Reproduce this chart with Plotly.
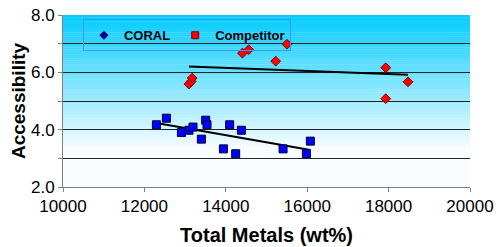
import numpy as np
import plotly.graph_objects as go

# ---- data ----
competitor_x = [13093, 13150, 13174, 14408, 14563, 15226, 15504, 17929, 17929, 18477]
competitor_y = [5.59, 5.68, 5.80, 6.67, 6.79, 6.39, 6.98, 6.16, 5.08, 5.67]

coral_x = [12295, 12541, 12909, 13096, 13194, 13400, 13506, 13538, 13941, 14095,
           14243, 14383, 15407, 15980, 16078]
coral_y = [4.17, 4.40, 3.90, 3.98, 4.09, 3.67, 4.33, 4.17, 3.33, 4.17,
           3.16, 3.98, 3.33, 3.16, 3.60]

legend_names = ["CORAL", "Competitor"]
x_ticks = [10000, 12000, 14000, 16000, 18000, 20000]
y_ticks = [2.0, 4.0, 6.0, 8.0]
y_grid = [3, 4, 5, 6, 7]

FONT = "Liberation Sans, Arial, sans-serif"


def trend(xs, ys):
    m, b = np.polyfit(xs, ys, 1)
    xx = np.array([min(xs), max(xs)])
    return xx, m * xx + b


fig = go.Figure()

# trendlines
for xs, ys in [(competitor_x, competitor_y), (coral_x, coral_y)]:
    tx, ty = trend(xs, ys)
    fig.add_trace(go.Scatter(x=tx, y=ty, mode="lines", showlegend=False,
                             line=dict(color="black", width=2), hoverinfo="skip"))

fig.add_trace(go.Scatter(x=competitor_x, y=competitor_y, mode="markers", showlegend=False,
                         marker=dict(symbol="diamond", size=7.5, color="#FF0000",
                                     line=dict(color="#7a0000", width=1))))
fig.add_trace(go.Scatter(x=coral_x, y=coral_y, mode="markers", showlegend=False,
                         marker=dict(symbol="square", size=8, color="#0000FF",
                                     line=dict(color="#000033", width=1))))

# legend entries (as in the reference)
fig.add_trace(go.Scatter(x=[None], y=[None], mode="markers", name=legend_names[0],
                         marker=dict(symbol="diamond", size=7, color="#000080")))
fig.add_trace(go.Scatter(x=[None], y=[None], mode="markers", name=legend_names[1],
                         marker=dict(symbol="square", size=7, color="#FF0000",
                                     line=dict(color="#7a0000", width=1))))

# gradient background bands
shapes = []
N = 80
top = np.array([0, 204, 255])
white = np.array([250, 253, 255])
for i in range(N):
    t = (i + 0.5) / N  # 0 at top
    f = min(1.0, t / 0.78)
    c = top + (white - top) * f
    y1 = 1 - i / N
    y0 = 1 - (i + 1) / N
    shapes.append(dict(type="rect", xref="x domain", yref="y domain",
                       x0=0, x1=1, y0=y0 - 0.002, y1=y1, layer="below",
                       line=dict(width=0),
                       fillcolor="rgb(%d,%d,%d)" % tuple(c.astype(int))))

fig.update_layout(
    template="none",
    width=502, height=247,
    margin=dict(l=63, r=32, t=15, b=60, autoexpand=False),
    paper_bgcolor="white", plot_bgcolor="rgba(0,0,0,0)",
    font=dict(family=FONT, color="black", size=16),
    shapes=shapes,
    showlegend=True,
    legend=dict(orientation="h", x=0.049, y=0.975, xanchor="left", yanchor="top",
                bgcolor="rgba(0,0,0,0)", bordercolor="#3399FF", borderwidth=1,
                font=dict(family=FONT, size=13, color="black", weight="bold"),
                itemwidth=30, tracegroupgap=0),
    xaxis=dict(range=[10000, 20000], tickvals=x_ticks, tickformat="d", ticks="outside",
               ticklen=4, tickcolor="#808080", showline=True, linecolor="#808080",
               linewidth=1, showgrid=False, zeroline=False, tickfont=dict(size=17),
               automargin=False,
               title=dict(text="Total Metals (wt%)", standoff=12,
                          font=dict(size=20, weight="bold"))),
    yaxis=dict(range=[2, 8], tickvals=y_ticks, tickformat=".1f", ticks="outside",
               ticklen=4, tickcolor="#808080", showline=True, linecolor="#808080",
               linewidth=1, showgrid=False, zeroline=False, tickfont=dict(size=17),
               automargin=False,
               minor=dict(tickvals=y_grid, showgrid=True, gridcolor="#222222",
                          gridwidth=1, ticks="outside", ticklen=4, tickcolor="#808080"),
               title=dict(text="Accessibility", standoff=0,
                          font=dict(size=19, weight="bold"))),
)

fig.write_html("out.html", config={"displayModeBar": False},
               post_script="document.body.style.margin='0';document.body.style.overflow='hidden';")
